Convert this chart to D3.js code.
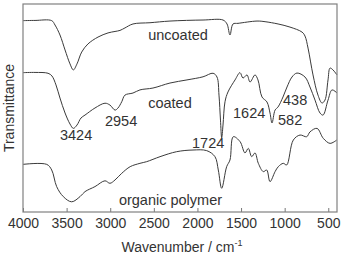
<!DOCTYPE html>
<html>
<head>
<meta charset="utf-8">
<script src="https://cdn.jsdelivr.net/npm/d3@7"></script>
<style>
  body { margin: 0; background: #fff; }
  text { font-family: "Liberation Sans", Arial, sans-serif; fill: #333; }
</style>
</head>
<body>
<div id="chart"></div>
<script>
// spectra (wavenumber cm-1, transmittance a.u.)
const uncoatedWn = [4000, 3862, 3671, 3633, 3576, 3518, 3461, 3423, 3381, 3327, 3255, 3140, 3025, 2945, 2888, 2831, 2739, 2544, 2315, 1936, 1707, 1661, 1627, 1592, 1535, 1317, 1225, 1076, 939, 801, 767, 732, 675, 618, 572, 538, 503, 480, 446, 400]
const uncoatedT = [92.0, 92.1, 92.0, 89.9, 85.1, 77.9, 71.2, 68.3, 71.2, 76.9, 80.8, 84.1, 86.1, 86.8, 87.3, 88.5, 90.4, 91.0, 91.8, 92.3, 92.3, 90.4, 85.1, 90.4, 90.7, 91.8, 91.5, 90.4, 88.9, 86.5, 84.6, 78.8, 65.9, 56.2, 52.4, 53.8, 63.5, 69.2, 68.3, 65.9]

const coatedWn = [4000, 3862, 3713, 3668, 3622, 3576, 3518, 3461, 3423, 3381, 3335, 3289, 3175, 3060, 3003, 2945, 2911, 2868, 2831, 2739, 2659, 2510, 2315, 2120, 1936, 1821, 1776, 1753, 1736, 1722, 1707, 1684, 1650, 1569, 1512, 1478, 1432, 1397, 1340, 1306, 1260, 1203, 1168, 1145, 1110, 1076, 1019, 973, 916, 859, 767, 710, 652, 595, 560, 503, 457, 400]
const coatedT = [67.0, 67.1, 66.7, 65.4, 61.1, 54.8, 47.6, 42.3, 40.2, 41.8, 45.2, 46.6, 50.0, 52.3, 51.4, 49.0, 50.0, 53.0, 56.2, 57.2, 58.7, 59.6, 62.0, 63.5, 65.0, 66.7, 64.9, 56.2, 44.2, 35.6, 41.8, 53.0, 57.7, 63.5, 67.0, 64.4, 65.9, 62.5, 65.9, 63.5, 55.3, 52.9, 47.6, 42.8, 49.0, 50.5, 55.3, 60.1, 64.9, 66.8, 64.9, 60.1, 53.8, 47.6, 46.6, 53.8, 58.7, 57.2]

const polymerWn = [4000, 3728, 3671, 3614, 3538, 3442, 3346, 3289, 3175, 3060, 3003, 2945, 2868, 2771, 2659, 2582, 2429, 2238, 2051, 1894, 1799, 1761, 1722, 1665, 1627, 1589, 1511, 1455, 1417, 1378, 1340, 1302, 1245, 1206, 1168, 1110, 1073, 1016, 977, 901, 824, 747, 710, 629, 557, 480, 403]
const polymerT = [22.9, 22.9, 20.2, 12.2, 7.4, 4.9, 7.4, 9.8, 12.2, 15.0, 13.8, 15.4, 18.6, 21.8, 23.4, 24.2, 26.6, 29.0, 29.8, 29.5, 26.6, 20.2, 11.4, 21.8, 25.0, 36.2, 33.8, 28.4, 30.6, 26.6, 28.4, 23.4, 19.4, 20.2, 14.6, 19.4, 21.8, 23.4, 22.6, 34.6, 37.0, 36.2, 38.5, 40.2, 35.4, 33.0, 34.6]

const xTicks = [4000, 3500, 3000, 2500, 2000, 1500, 1000, 500]

// curve names (centred) and peak labels (left aligned)
const curveNames = ["uncoated", "coated", "organic polymer"]
const curveNameWn = [2223, 2315, 2309]
const curveNameT = [82.7, 50.0, 3.4]
const peakLabels = ["3424", "2954", "1624", "438", "582", "1724"]
const peakWn = [3576, 3060, 1592, 1019, 1076, 2062]
const peakT = [34.6, 41.3, 45.2, 51.4, 41.8, 30.8]

const width = 341,
    height = 254,
    margin = {top: 4, right: 4, bottom: 42, left: 23};

const svg = d3.select("#chart")
    .append("svg")
    .attr("width", width)
    .attr("height", height)

const x = d3.scaleLinear()
    .domain([4000, 400])
    .range([margin.left, width - margin.right])

const y = d3.scaleLinear()
    .domain([0, 100])
    .range([height - margin.bottom, margin.top])

const line = d3.line()
    .x(d => x(d[0]))
    .y(d => y(d[1]))
    .curve(d3.curveCatmullRom.alpha(0.5))

const series = [
    d3.zip(uncoatedWn, uncoatedT),
    d3.zip(coatedWn, coatedT),
    d3.zip(polymerWn, polymerT)
]

svg.selectAll("path.spec")
    .data(series)
    .join("path")
    .attr("class", "spec")
    .attr("d", line)
    .attr("fill", "none")
    .attr("stroke", "#3a3a3a")
    .attr("stroke-width", 1)

// bottom axis, ticks pointing inward
const xAxis = svg.append("g")
    .attr("transform", `translate(0,${height - margin.bottom})`)
    .call(d3.axisBottom(x).tickValues(xTicks).tickFormat(d3.format("d")).tickSize(-4).tickPadding(6))

xAxis.select(".domain").remove()
xAxis.selectAll(".tick line").attr("stroke", "#777")
xAxis.selectAll(".tick text")
    .style("font-size", "14px")
    .attr("fill", "#333")
    .style("font-family", "'Liberation Sans', Arial, sans-serif")

// frame
svg.append("rect")
    .attr("x", margin.left)
    .attr("y", margin.top)
    .attr("width", width - margin.left - margin.right)
    .attr("height", height - margin.top - margin.bottom)
    .attr("fill", "none")
    .attr("stroke", "#808080")
    .attr("stroke-width", 1.2)

svg.selectAll("text.name")
    .data(curveNames)
    .join("text")
    .attr("class", "name")
    .attr("x", (d, i) => x(curveNameWn[i]))
    .attr("y", (d, i) => y(curveNameT[i]))
    .attr("text-anchor", "middle")
    .style("font-size", "14.5px")
    .text(d => d)

svg.selectAll("text.peak")
    .data(peakLabels)
    .join("text")
    .attr("class", "peak")
    .attr("x", (d, i) => x(peakWn[i]))
    .attr("y", (d, i) => y(peakT[i]))
    .style("font-size", "14.5px")
    .text(d => d)

// axis titles
const xTitle = svg.append("text")
    .attr("x", (margin.left + width - margin.right) / 2 + 2)
    .attr("y", 252)
    .attr("text-anchor", "middle")
    .style("font-size", "14px")
xTitle.append("tspan").text("Wavenumber / cm")
xTitle.append("tspan").attr("dy", -6).style("font-size", "9px").text("-1")

svg.append("text")
    .attr("transform", `translate(14,${(margin.top + height - margin.bottom) / 2}) rotate(-90)`)
    .attr("text-anchor", "middle")
    .style("font-size", "14px")
    .text("Transmittance")
</script>
</body>
</html>
